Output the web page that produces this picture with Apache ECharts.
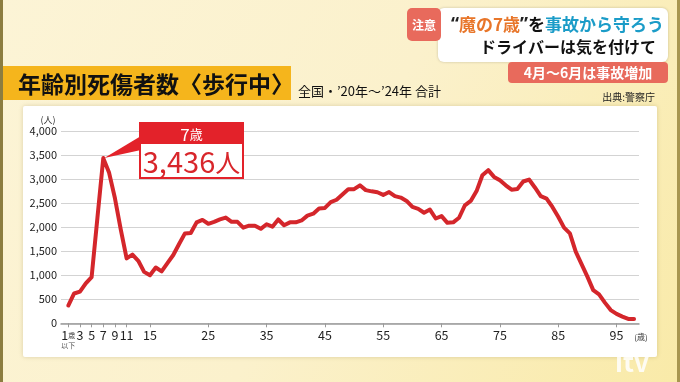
<!DOCTYPE html>
<html><head><meta charset="utf-8">
<script src="https://cdn.jsdelivr.net/npm/echarts@6/dist/echarts.min.js"></script>
<style>html,body{margin:0;padding:0;background:#fbf2cf;}#c{width:680px;height:382px;}</style>
</head><body><div id="c"></div>
<script>
// ---- data ----
const ages = [1,2,3,4,5,6,7,8,9,10,11,12,13,14,15,16,17,18,19,20,21,22,23,24,25,26,27,28,29,30,
  31,32,33,34,35,36,37,38,39,40,41,42,43,44,45,46,47,48,49,50,51,52,53,54,55,56,57,58,59,60,
  61,62,63,64,65,66,67,68,69,70,71,72,73,74,75,76,77,78,79,80,81,82,83,84,85,86,87,88,89,90,
  91,92,93,94,95,96,97,98];
const casualties = [370,620,660,830,960,2200,3436,3130,2600,1950,1350,1430,1300,1070,1000,1160,1080,1250,1420,1650,
  1870,1880,2100,2150,2070,2110,2160,2200,2110,2110,1990,2030,2030,1965,2060,2010,2160,2040,2100,2100,
  2140,2240,2280,2390,2400,2520,2570,2680,2790,2790,2870,2770,2745,2725,2670,2730,2645,2615,2545,2420,
  2380,2300,2365,2180,2230,2090,2100,2195,2455,2545,2750,3080,3185,3045,2975,2870,2780,2795,2950,2990,
  2825,2645,2595,2420,2215,1990,1870,1490,1230,970,690,600,430,275,195,140,90,90];
const xTickAges = [1,3,5,7,9,11,15,25,35,45,55,65,75,85,95];
const yMax = 4000, yStep = 500;

const FONT = '"Noto Sans CJK JP","Noto Sans",sans-serif';
const LAT = '"Noto Sans",sans-serif';
const chart = echarts.init(document.getElementById('c'), null, {renderer:'canvas'});

const seriesData = ages.map((a,i)=>[a, casualties[i]]);
let peakIdx = 0;
casualties.forEach((v,i)=>{ if(v>casualties[peakIdx]) peakIdx=i; });

function fmt(n){ return String(n).replace(/\B(?=(\d{3})+(?!\d))/g, ','); }

const staticGraphics = [
  // panel
  {type:'rect', z:-10, shape:{x:23,y:106,width:634,height:251,r:2}, style:{fill:'#ffffff', shadowBlur:4, shadowColor:'rgba(120,100,40,0.25)'}},
  // edges
  {type:'rect', z:-5, shape:{x:0,y:0,width:3,height:382}, style:{fill:'#8c7d40'}},
  {type:'rect', z:-5, shape:{x:677,y:0,width:3,height:382}, style:{fill:'#a89650'}},
  // title bar
  {type:'rect', z:5, shape:{x:3,y:66,width:288,height:34}, style:{fill:'#f5b51c'}},
  {type:'text', z:6, style:{x:18,y:84,text:'年齢別死傷者数〈歩行中〉', fill:'#111', font:'bold 23px '+FONT, verticalAlign:'middle'}},
  {type:'text', z:6, style:{x:298,y:91,text:'全国・’20年〜’24年 合計', fill:'#111', font:'13px '+FONT, verticalAlign:'middle'}},
  {type:'text', z:6, style:{x:655,y:97,text:'出典:警察庁', fill:'#222', font:'10px '+FONT, align:'right', verticalAlign:'middle'}},
  // top-right caption
  {type:'rect', z:5, shape:{x:438,y:8,width:230,height:54,r:6}, style:{fill:'#ffffff', shadowBlur:3, shadowColor:'rgba(0,0,0,0.2)'}},
  {type:'rect', z:6, shape:{x:407,y:8,width:34,height:33,r:5}, style:{fill:'#e86a5c'}},
  {type:'text', z:7, style:{x:424,y:25,text:'注意', fill:'#fff', font:'bold 12px '+FONT, align:'center', verticalAlign:'middle'}},
  {type:'text', z:7, style:{x:664,y:25,text:'{q|“}{o|魔の7歳}{q|”}{k|を}{b|事故から守ろう}', align:'right', verticalAlign:'middle',
     rich:{q:{fill:'#222', font:'bold 18px '+LAT}, o:{fill:'#e8762a', font:'bold 17px '+FONT}, k:{fill:'#111', font:'bold 17px '+FONT}, b:{fill:'#1b9cc8', font:'bold 17px '+FONT}}}},
  {type:'text', z:7, style:{x:656,y:47,text:'ドライバーは気を付けて', fill:'#111', font:'bold 16px '+FONT, align:'right', verticalAlign:'middle'}},
  {type:'rect', z:6, shape:{x:508,y:62,width:160,height:21,r:4}, style:{fill:'#e86a5c'}},
  {type:'text', z:7, style:{x:588,y:73,text:'4月〜6月は事故増加', fill:'#fff', font:'bold 14px '+FONT, align:'center', verticalAlign:'middle'}},
  // axis units
  {type:'text', z:6, style:{x:48,y:120,text:'(人)', fill:'#333', font:'9px '+FONT, align:'center', verticalAlign:'middle'}},
  {type:'text', z:6, style:{x:641,y:337,text:'(歳)', fill:'#333', font:'8px '+FONT, align:'center', verticalAlign:'middle'}},
  // logo
  {type:'text', z:6, style:{x:632,y:362,text:'itv', fill:'rgba(255,255,255,0.85)', font:'bold 26px '+FONT, align:'center', verticalAlign:'middle'}}
];

chart.setOption({
  animation:false,
  backgroundColor:{type:'linear',x:0,y:0,x2:1,y2:1,colorStops:[{offset:0,color:'#fcf4d6'},{offset:0.5,color:'#fbf1cc'},{offset:1,color:'#f9eaa8'}]},
  textStyle:{fontFamily:FONT},
  grid:{left:61,right:41,top:131,bottom:58.7},
  xAxis:{type:'value', min:-0.25, max:98.85,
    axisLine:{show:true,lineStyle:{color:'#9a9a9a',width:1.5}},
    axisTick:{show:true,customValues:xTickAges,length:4,lineStyle:{color:'#9a9a9a'}},
    splitLine:{show:false},
    axisLabel:{customValues:xTickAges, color:'#222', fontSize:12.5, margin:6,
      formatter:function(v){ return v===1 ? '{n|1}{s|歳}\n{t|以下}' : String(v); },
      rich:{n:{fontSize:12.5,color:'#222'}, s:{fontSize:7,color:'#444'}, t:{fontSize:7,color:'#555'}}}
  },
  yAxis:{type:'value', min:0, max:yMax, interval:yStep,
    axisLine:{show:false}, axisTick:{show:false},
    splitLine:{lineStyle:{color:'#d3d3d3',width:1}},
    axisLabel:{color:'#222', fontSize:11, margin:4, formatter:v=>fmt(v)}
  },
  series:[{type:'line', data:seriesData, showSymbol:false, smooth:false,
    lineStyle:{color:'#d4262b', width:4, join:'round', cap:'round'}, z:3}],
  graphic:staticGraphics
});

// annotation attached to peak
const pk = chart.convertToPixel({gridIndex:0}, [ages[peakIdx], casualties[peakIdx]]);
const bx = 140, by = 123, bw = 103, bh = 55, hh = 21;
chart.setOption({graphic: staticGraphics.concat([
  {type:'polygon', z:8, shape:{points:[[pk[0]+1,pk[1]],[bx+1,by+hh-8],[bx+1,by+hh+6]]}, style:{fill:'#e3222a'}},
  {type:'rect', z:8, shape:{x:bx,y:by,width:bw,height:bh}, style:{fill:'#fff', stroke:'#e3222a', lineWidth:2}},
  {type:'rect', z:9, shape:{x:bx,y:by,width:bw,height:hh}, style:{fill:'#e3222a'}},
  {type:'text', z:10, style:{x:bx+bw/2,y:by+hh/2+1,text:'{a|'+ages[peakIdx]+'}{b|歳}', align:'center', verticalAlign:'middle',
    rich:{a:{fill:'#fff',font:'17px '+FONT}, b:{fill:'#fff',font:'13px '+FONT}}}},
  {type:'text', z:10, style:{x:bx+bw/2,y:by+hh+(bh-hh)/2+1,text:'{a|'+fmt(casualties[peakIdx])+'}{b|人}', align:'center', verticalAlign:'middle',
    rich:{a:{fill:'#d8262b',font:'29px '+FONT}, b:{fill:'#d8262b',font:'25px '+FONT}}}}
])}, {replaceMerge:['graphic']});
</script></body></html>
